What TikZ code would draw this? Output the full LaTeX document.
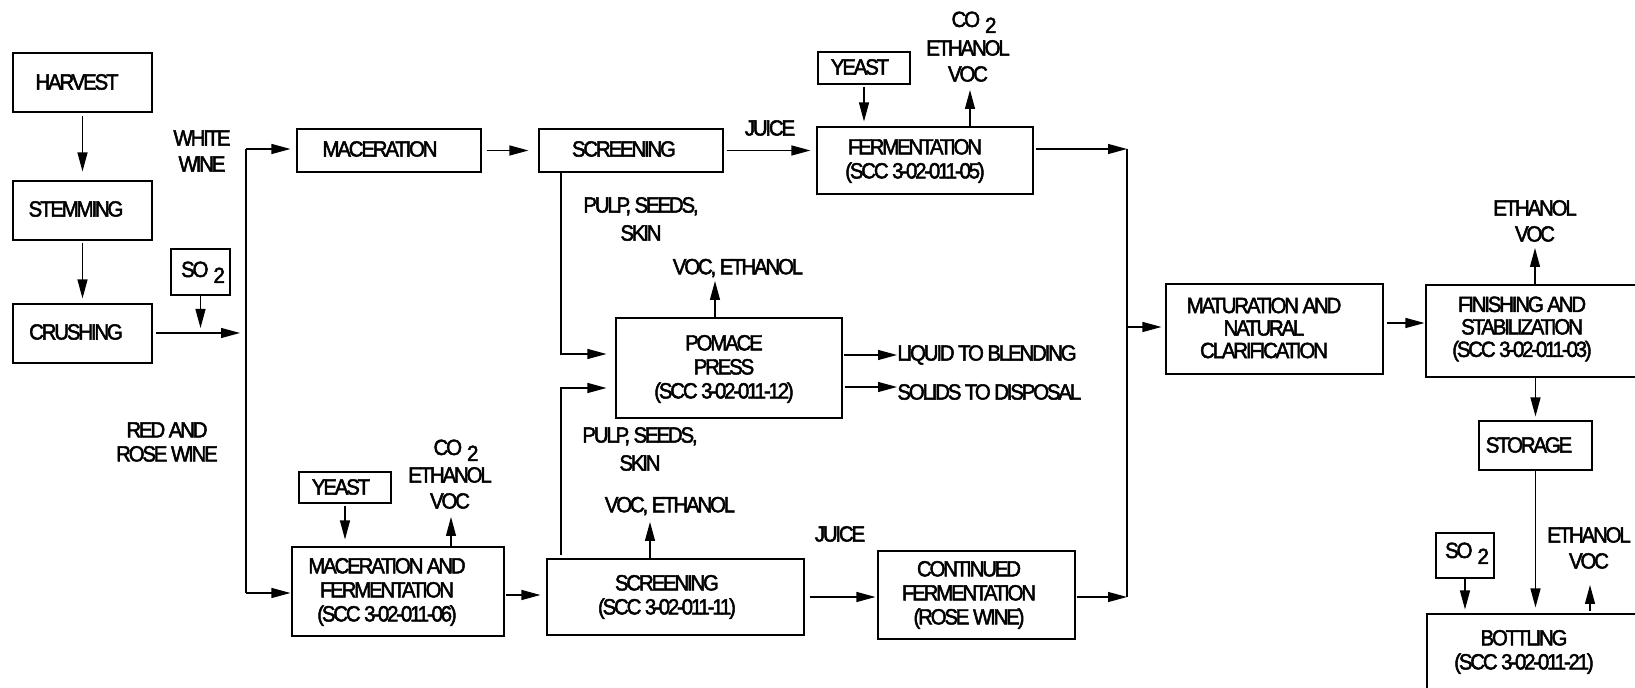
\documentclass[tikz,border=0pt]{standalone}
\usepackage{fontspec}
\setmainfont{Liberation Sans}[FakeStretch=0.93, LetterSpace=-10, FakeBold=2.2]
\usetikzlibrary{arrows.meta}
\tikzset{
  pbox/.style={draw=black, line width=0.55pt, inner sep=0pt},
  ptxt/.style={inner sep=0pt, align=center, font=\fontsize{11pt}{12pt}\selectfont},
  ptxtb/.style={inner sep=0pt, align=center, font=\fontsize{11pt}{11.25pt}\selectfont},
  lbl/.style={inner sep=0pt, align=center, font=\fontsize{11pt}{13pt}\selectfont},
  lblw/.style={inner sep=0pt, align=center, font=\fontsize{11pt}{14pt}\selectfont},
  arr/.style={line width=0.6pt, -{Triangle[length=9.5pt,width=5pt]}},
  ln/.style={line width=0.6pt},
}
\newcommand\procbox[5]{\node[pbox, minimum width={(#4-#2)*0.5pt}, minimum height={(#5-#3)*0.5pt}] (#1) at ({(#2+#4)/2},{(#3+#5)/2}) {};}
\newcommand\subtwo{\hspace{2.5pt}\raisebox{-3pt}{2}}
\begin{document}
\begin{tikzpicture}[x=0.5pt,y=-0.5pt]
\useasboundingbox (0,0) rectangle (1635,688);
\begin{scope}
\clip (0,0) rectangle (1635,688);
% boxes
\procbox{harvest}{13}{53}{152}{112}
\procbox{stem}{13}{181}{152}{240}
\procbox{crush}{13}{304}{152}{363}
\procbox{so2a}{171}{249}{230}{295}
\procbox{mac}{297}{129}{481}{172}
\procbox{scr1}{539}{129}{723}{172}
\procbox{ferm}{817}{127}{1033}{194}
\procbox{yeast1}{818}{52}{910}{84}
\procbox{press}{616}{318}{842}{418}
\procbox{mat}{1166}{284}{1383}{374}
\procbox{fin}{1426}{285}{1660}{377}
\procbox{storage}{1479}{421}{1592}{470}
\procbox{so2b}{1436}{533}{1494}{578}
\procbox{bott}{1427}{614}{1660}{720}
\procbox{yeast2}{299}{472}{391}{503}
\procbox{macferm}{292}{547}{504}{636}
\procbox{scr2}{547}{559}{804}{635}
\procbox{cont}{878}{551}{1075}{639}
% box texts
\node[ptxt] (harvest-t) at (77,82) {HARVEST};
\node[ptxt] (stem-t) at (76,209) {STEMMING};
\node[ptxt] (crush-t) at (76,332) {CRUSHING};
\node[ptxt, anchor=base] (so2a-t) at (203,277) {SO\subtwo};
\node[ptxt] (mac-t) at (380,149) {MACERATION};
\node[ptxt] (scr1-t) at (624,149) {SCREENING};
\node[ptxt] (ferm-t) at (915,161) {FERMENTATION\\(SCC 3-02-011-05)};
\node[ptxt] (yeast1-t) at (860,67) {YEAST};
\node[ptxt] (press-t) at (724,369) {POMACE\\PRESS\\(SCC 3-02-011-12)};
\node[ptxtb] (mat-t) at (1264,328) {MATURATION AND\\NATURAL\\CLARIFICATION};
\node[ptxtb] (fin-t) at (1522,329) {FINISHING AND\\STABILIZATION\\(SCC 3-02-011-03)};
\node[ptxt] (storage-t) at (1529,445) {STORAGE};
\node[ptxt, anchor=base] (so2b-t) at (1467,558) {SO\subtwo};
\node[ptxt] (bott-t) at (1524,652) {BOTTLING\\(SCC 3-02-011-21)};
\node[ptxt] (yeast2-t) at (341,487) {YEAST};
\node[ptxt] (macferm-t) at (387,592) {MACERATION AND\\FERMENTATION\\(SCC 3-02-011-06)};
\node[ptxt] (scr2-t) at (667,597) {SCREENING\\(SCC 3-02-011-11)};
\node[ptxt] (cont-t) at (969,595) {CONTINUED\\FERMENTATION\\(ROSE WINE)};
% labels
\node[lbl] (white) at (202,151) {WHITE\\WINE};
\node[ptxt] (red) at (167,442) {RED AND\\ROSE WINE};
\node[lbl] (juice1) at (770,128) {JUICE};
\node[lbl] (juice2) at (840,534) {JUICE};
\node[lblw] (pulp1) at (641,219) {PULP, SEEDS,\\SKIN};
\node[lblw] (pulp2) at (640,449) {PULP, SEEDS,\\SKIN};
\node[lbl, anchor=base] (co2a) at (974,27) {CO\subtwo};
\node[lbl] (ev1) at (968,61) {ETHANOL\\VOC};
\node[lbl, anchor=base] (co2b) at (456,455) {CO\subtwo};
\node[lbl] (ev2) at (450,488) {ETHANOL\\VOC};
\node[lbl] (ev3) at (1535,221) {ETHANOL\\VOC};
\node[lbl] (ev4) at (1589,548) {ETHANOL\\VOC};
\node[lbl] (ve1) at (738,268) {VOC, ETHANOL};
\node[lbl] (ve2) at (670,506) {VOC, ETHANOL};
\node[lbl, anchor=west] (liquid) at (897,355) {LIQUID TO BLENDING};
\node[lbl, anchor=west] (solids) at (897,392) {SOLIDS TO DISPOSAL};
% coordinates
\coordinate (j1) at (246,333);
\coordinate (jtop) at (246,149);
\coordinate (jbot) at (246,593);
\coordinate (c1) at (1127,149);
\coordinate (c2) at (1127,597);
\coordinate (fe) at (970,90);
\coordinate (finE) at (1535,248);
\coordinate (botE) at (1590,585);
\coordinate (prE) at (715,281);
\coordinate (mfE) at (451,517);
\coordinate (s2E) at (650,522);
\coordinate (pu) at (561,354);
\coordinate (pl) at (561,388);
\coordinate (sol) at (897,387);
\coordinate (ms) at (0,595);
% connectors
\draw[arr, shorten <=1.5pt, shorten >=4.5pt] (harvest) -- (stem);
\draw[arr, shorten <=1pt, shorten >=2.5pt] (stem) -- (crush);
\draw[arr, shorten <=1.5pt, shorten >=3pt] (crush.east |- j1) -- (j1);
\draw[arr, shorten >=2.5pt] (so2a.south) -- (so2a.south |- j1);
\draw[ln] (jtop) -- (jbot);
\draw[arr, shorten >=3pt] (jtop) -- (jtop -| mac.west);
\draw[arr, shorten >=0.5pt] (jbot) -- (jbot -| macferm.west);
\draw[arr, shorten <=2.5pt, shorten >=5pt] (mac.east) -- (mac.east -| scr1.west);
\draw[arr, shorten <=1.5pt, shorten >=3pt] (scr1.east) -- (scr1.east -| ferm.west);
\draw[arr, shorten <=1pt, shorten >=2.5pt] (yeast1.south) -- (yeast1.south |- ferm.north);
\draw[arr] (fe |- ferm.north) -- (fe);
\draw[arr, shorten <=1pt] (ferm.east |- c1) -- (c1);
\draw[ln] (c1) -- (c2);
\draw[arr, shorten >=2pt] ([yshift=1pt]mat.west -| c1) -- ([yshift=1pt]mat.west);
\draw[arr, shorten <=1.5pt, shorten >=0.5pt] ([yshift=3pt]mat.east) -- ([yshift=3pt]mat.east -| fin.west);
\draw[arr] (finE |- fin.north) -- (finE);
\draw[arr, shorten >=2pt] (storage.north |- fin.south) -- (storage.north);
\draw[arr, shorten >=3pt] (storage.south) -- (storage.south |- bott.north);
\draw[arr, shorten >=2pt] (so2b.south) -- (so2b.south |- bott.north);
\draw[arr, shorten <=1pt] (botE |- bott.north) -- (botE);
\draw[arr, shorten >=4.5pt] (scr1.south -| pu) -- (pu) -- (pu -| press.west);
\draw[arr, shorten <=1.5pt, shorten >=4.5pt] (scr2.north -| pl) -- (pl) -- (pl -| press.west);
\draw[arr] (prE |- press.north) -- (prE);
\draw[arr, shorten <=0.5pt] (press.east |- liquid.west) -- (liquid.west);
\draw[arr, shorten <=1pt] (press.east |- sol) -- (solids.west |- sol);
\draw[arr, shorten <=1pt, shorten >=3.5pt] (yeast2.south) -- (yeast2.south |- macferm.north);
\draw[arr] (mfE |- macferm.north) -- (mfE);
\draw[arr, shorten <=0.5pt, shorten >=3pt] (macferm.east |- ms) -- (scr2.west |- ms);
\draw[arr] (s2E |- scr2.north) -- (s2E);
\draw[arr, shorten <=2.5pt, shorten >=1pt] (scr2.east) -- (scr2.east -| cont.west);
\draw[arr, shorten <=0.5pt] (cont.east |- c2) -- (c2);
\end{scope}
\end{tikzpicture}
\end{document}
